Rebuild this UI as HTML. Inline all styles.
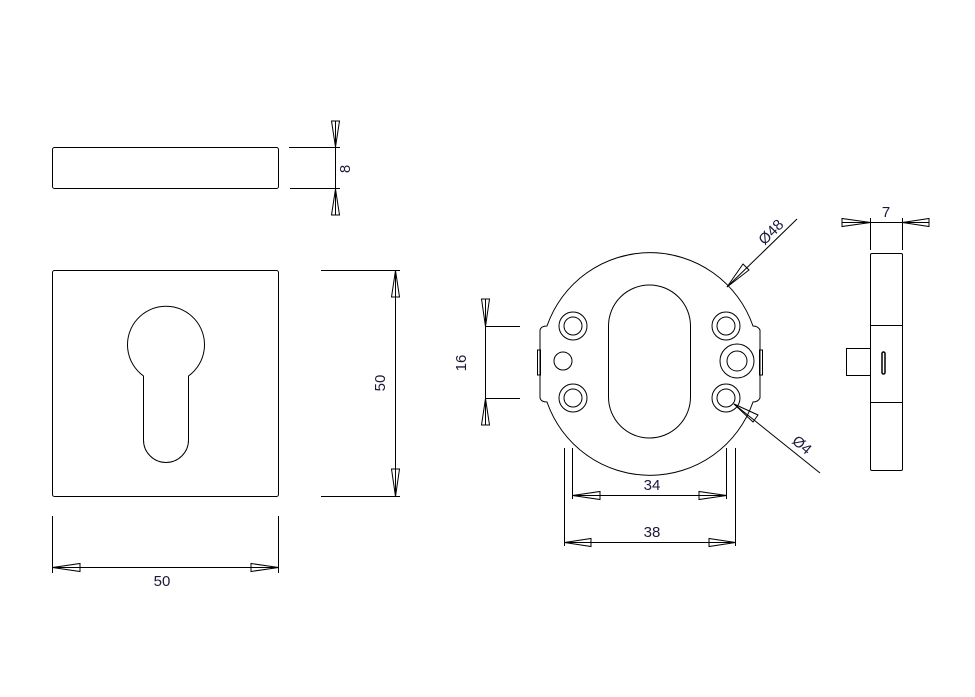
<!DOCTYPE html>
<html><head><meta charset="utf-8"><style>
html,body{margin:0;padding:0;background:#fff;}
svg{display:block;}
text{font-family:"Liberation Sans",sans-serif;font-size:15px;fill:#1a1a3a;}
</style></head><body>
<svg width="975" height="697" viewBox="0 0 975 697" xmlns="http://www.w3.org/2000/svg">
<g fill="none" stroke="#000" stroke-width="1">
<rect x="52.5" y="147.5" width="226" height="41" rx="2"/>
<line x1="289" y1="147.5" x2="340" y2="147.5"/>
<line x1="290" y1="188.5" x2="340" y2="188.5"/>
<line x1="335.5" y1="121" x2="335.5" y2="215"/>
<polygon points="335.5,147 331.5,121 339.5,121"/>
<polygon points="335.5,189 331.5,215 339.5,215"/>
<rect x="52.5" y="270.5" width="226" height="226" rx="2"/>
<path d="M143.5,376 A38.5,38.5 0 1 1 188.5,376 L188.5,440 A22.5,22.5 0 0 1 143.5,440 Z"/>
<line x1="321" y1="270.5" x2="400" y2="270.5"/>
<line x1="321" y1="496.5" x2="400" y2="496.5"/>
<line x1="395.5" y1="270" x2="395.5" y2="496"/>
<polygon points="395.5,270.5 391.5,297 399.5,297"/>
<polygon points="395.5,496.5 391.5,469 399.5,469"/>
<line x1="52.5" y1="516" x2="52.5" y2="573"/>
<line x1="278.5" y1="516" x2="278.5" y2="573"/>
<line x1="52" y1="567.5" x2="279" y2="567.5"/>
<polygon points="52.5,567.5 80,563.5 80,571.5"/>
<polygon points="278.5,567.5 251,563.5 251,571.5"/>
<path d="M547,326 A109,109 0 0 1 753,326 Q758,326 760,330 L760,398 Q758,402 753,402 A109,109 0 0 1 547,402 Q541,402 540,398 L540,330 Q541,326 547,326 Z"/>
<rect x="537.5" y="350" width="3" height="25"/>
<rect x="759.5" y="350" width="3" height="25"/>
<path d="M608.5,326 A41,41 0 0 1 690.5,326 L690.5,397 A41,41 0 0 1 608.5,397 Z"/>
<circle cx="573" cy="326" r="14"/><circle cx="573" cy="326" r="9"/>
<circle cx="573" cy="398" r="14"/><circle cx="573" cy="398" r="9"/>
<circle cx="563" cy="361" r="9"/>
<circle cx="726" cy="326" r="14"/><circle cx="726" cy="326" r="9"/>
<circle cx="726" cy="398" r="14"/><circle cx="726" cy="398" r="9"/>
<circle cx="737" cy="361" r="17"/><circle cx="737" cy="361" r="10"/>
<line x1="727" y1="287" x2="797" y2="219"/>
<polygon points="727,287 743,264 749,270"/>
<line x1="734" y1="404" x2="820" y2="473"/>
<polygon points="734,404 758,415 753,422"/>
<line x1="486" y1="326.5" x2="520" y2="326.5"/>
<line x1="486" y1="398.5" x2="520" y2="398.5"/>
<line x1="485.5" y1="299" x2="485.5" y2="425"/>
<polygon points="485.5,326.5 481.5,299 489.5,299"/>
<polygon points="485.5,398.5 481.5,425 489.5,425"/>
<line x1="572.5" y1="448" x2="572.5" y2="499"/>
<line x1="726.5" y1="448" x2="726.5" y2="499"/>
<line x1="572" y1="495.5" x2="727" y2="495.5"/>
<polygon points="572.5,495.5 600,491.5 600,499.5"/>
<polygon points="726.5,495.5 699,491.5 699,499.5"/>
<line x1="564.5" y1="448" x2="564.5" y2="546"/>
<line x1="735.5" y1="448" x2="735.5" y2="546"/>
<line x1="564" y1="542.5" x2="736" y2="542.5"/>
<polygon points="564.5,542.5 591,538.5 591,546.5"/>
<polygon points="735.5,542.5 709,538.5 709,546.5"/>
<rect x="870.5" y="253.5" width="32" height="217" rx="1.5"/>
<line x1="870.5" y1="325.5" x2="902.5" y2="325.5"/>
<line x1="870.5" y1="402.5" x2="902.5" y2="402.5"/>
<rect x="846.5" y="348.5" width="24" height="27"/>
<rect x="882" y="352" width="3" height="22" rx="1.5" stroke-width="1.5"/>
<line x1="870.5" y1="218" x2="870.5" y2="250"/>
<line x1="902.5" y1="218" x2="902.5" y2="250"/>
<line x1="842" y1="222.5" x2="929" y2="222.5"/>
<polygon points="870.5,222.5 842,218.5 842,226.5"/>
<polygon points="902.5,222.5 929,218.5 929,226.5"/>
</g>
<text x="355" y="174" text-anchor="middle" transform="rotate(-90 350 174)">8</text>
<text x="390" y="388" text-anchor="middle" transform="rotate(-90 385 388)">50</text>
<text x="162" y="586" text-anchor="middle">50</text>
<text x="471" y="368" text-anchor="middle" transform="rotate(-90 466 368)">16</text>
<text x="652" y="490" text-anchor="middle">34</text>
<text x="652" y="537" text-anchor="middle">38</text>
<text x="886" y="217" text-anchor="middle">7</text>
<text x="771" y="237" text-anchor="middle" transform="rotate(-45 771 232)">Ø48</text>
<text x="802" y="450" text-anchor="middle" transform="rotate(40 802 445)">Ø4</text>
</svg>
</body></html>
